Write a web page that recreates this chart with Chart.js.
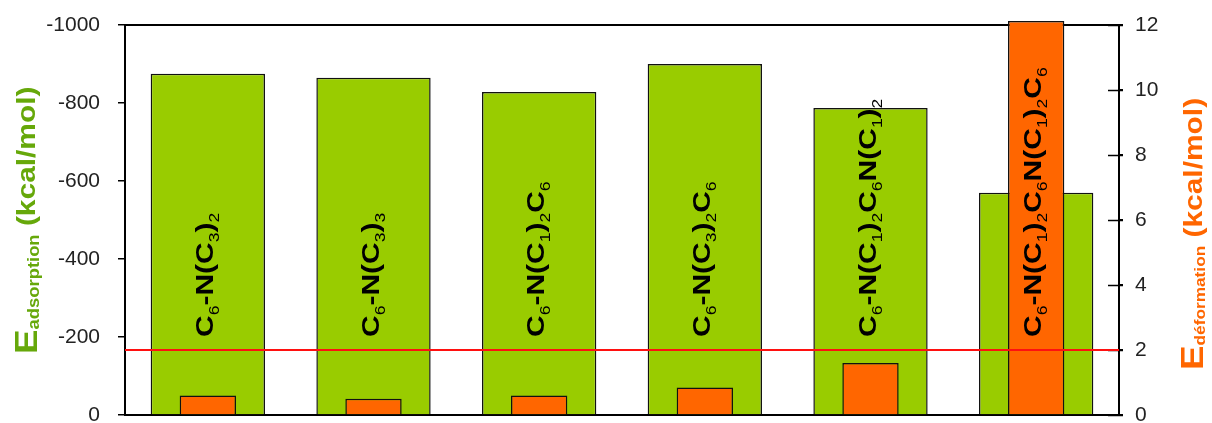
<!DOCTYPE html>
<html>
<head>
<meta charset="utf-8">
<script src="https://cdn.jsdelivr.net/npm/chart.js@4/dist/chart.umd.min.js"></script>
<style>
html, body { margin: 0; padding: 0; background: #fff; }
#wrap { width: 1212px; height: 423px; position: relative; }
</style>
</head>
<body>
<div id="wrap"><canvas id="chart"></canvas></div>
<script>
// molecule names, "_x" marks a subscript character
const categories = ['C_6-N(C_3)_2', 'C_6-N(C_3)_3', 'C_6-N(C_1)_2C_6', 'C_6-N(C_3)_2C_6', 'C_6-N(C_1)_2C_6N(C_1)_2', 'C_6-N(C_1)_2C_6N(C_1)_2C_6'];
const adsorption = [-875, -865, -828, -900, -787, -570];   // left axis, kcal/mol
const deformation = [0.6, 0.5, 0.6, 0.85, 1.6, 12.12];     // right axis, kcal/mol
const leftTicks = [0, -200, -400, -600, -800, -1000];
const rightTicks = [0, 2, 4, 6, 8, 10, 12];
const threshold = 2;      // red line on the right axis
const labelBase = -200;   // where the bar names start, left axis

const GREEN = '#99cc00';
const ORANGE = '#ff6600';
const FONT = '"Liberation Sans", Arial, sans-serif';

// draw rotated text made of parts [text, font, dy, color]
function drawParts(ctx, parts, x, y, stretch) {
    ctx.save();
    ctx.translate(x, y);
    ctx.rotate(-Math.PI / 2);
    ctx.scale(stretch, 1);
    ctx.textBaseline = 'alphabetic';
    ctx.textAlign = 'left';
    let pos = 0;
    parts.forEach(p => {
        ctx.font = p[1];
        ctx.fillStyle = p[3];
        ctx.fillText(p[0], pos, p[2]);
        pos += ctx.measureText(p[0]).width;
    });
    ctx.restore();
}

function nameParts(name) {
    const parts = [];
    for (let i = 0; i < name.length; i++) {
        if (name[i] === '_') {
            i++;
            parts.push([name[i], '14px ' + FONT, 6, '#000']);
        } else {
            parts.push([name[i], 'bold 24px ' + FONT, 0, '#000']);
        }
    }
    return parts;
}

const framePlugin = {
    id: 'frame',
    beforeDatasetsDraw(chart) {
        const ctx = chart.ctx, a = chart.chartArea;
        ctx.save();
        ctx.strokeStyle = '#000';
        ctx.lineWidth = 2;
        ctx.strokeRect(a.left, a.top, a.right - a.left, a.bottom - a.top);
        // right axis ticks cross the axis line
        const y2 = chart.scales.y2;
        ctx.lineWidth = 1.5;
        y2.ticks.forEach(t => {
            const py = Math.round(y2.getPixelForValue(t.value)) + 0.5;
            ctx.beginPath();
            ctx.moveTo(a.right - 11, py);
            ctx.lineTo(a.right + 4, py);
            ctx.stroke();
        });
        ctx.restore();
    },
    afterDatasetsDraw(chart) {
        const ctx = chart.ctx, a = chart.chartArea;
        const y = chart.scales.y, y2 = chart.scales.y2;

        // red reference line
        const ly = y2.getPixelForValue(threshold);
        ctx.save();
        ctx.strokeStyle = '#ff1010';
        ctx.lineWidth = 2;
        ctx.beginPath();
        ctx.moveTo(a.left, ly);
        ctx.lineTo(a.right, ly);
        ctx.stroke();
        ctx.restore();

        // names inside the bars
        const meta = chart.getDatasetMeta(1);
        const by = y.getPixelForValue(labelBase);
        meta.data.forEach((bar, i) => {
            drawParts(ctx, nameParts(categories[i]), bar.x + 5, by, 1.25);
        });

        // axis titles
        const green = '#66a80a';
        drawParts(ctx, [
            ['E', 'bold 32px ' + FONT, 0, green],
            ['adsorption', 'bold 16px ' + FONT, 2, green],
            [' (kcal/mol)', 'bold 26px ' + FONT, -2, green]
        ], 37, 354, 1.15);
        drawParts(ctx, [
            ['E', 'bold 32px ' + FONT, 0, ORANGE],
            ['déformation', 'bold 15px ' + FONT, 2, ORANGE],
            [' (kcal/mol)', 'bold 26px ' + FONT, -1, ORANGE]
        ], 1203, 370, 1.15);
    }
};

new Chart(document.getElementById('chart'), {
    type: 'bar',
    data: {
        labels: categories,
        datasets: [{
            label: 'E déformation',
            data: deformation,
            yAxisID: 'y2',
            backgroundColor: ORANGE,
            borderColor: '#111',
            borderWidth: 1.5,
            barPercentage: 0.34,
            categoryPercentage: 1,
            grouped: false,
            clip: false,
            order: 0
        }, {
            label: 'E adsorption',
            data: adsorption,
            yAxisID: 'y',
            backgroundColor: GREEN,
            borderColor: '#111',
            borderWidth: 1.5,
            barPercentage: 0.69,
            categoryPercentage: 1,
            grouped: false,
            order: 1
        }]
    },
    options: {
        responsive: true,
        maintainAspectRatio: false,
        animation: false,
        layout: { padding: { top: 25, bottom: 8, left: 0, right: 0 } },
        plugins: {
            legend: { display: false },
            tooltip: { enabled: false }
        },
        scales: {
            x: { display: false },
            y: {
                position: 'left',
                reverse: true,
                min: -1000,
                max: 0,
                border: { display: false },
                grid: { drawOnChartArea: false, tickLength: 7, color: '#000', lineWidth: 1.5 },
                ticks: { font: { size: 21, family: FONT }, color: '#222', padding: 18, callback: v => String(v) },
                afterBuildTicks: s => { s.ticks = leftTicks.map(v => ({ value: v })); },
                afterFit: s => { s.width = 125; s.paddingTop = 0; s.paddingBottom = 0; }
            },
            y2: {
                position: 'right',
                min: 0,
                max: 12,
                border: { display: false },
                grid: { drawOnChartArea: false, tickLength: 4, color: '#000', lineWidth: 1.5 },
                ticks: { font: { size: 21, family: FONT }, color: '#222', padding: 12, callback: v => String(v) },
                afterBuildTicks: s => { s.ticks = rightTicks.map(v => ({ value: v })); },
                afterFit: s => { s.width = 93; s.paddingTop = 0; s.paddingBottom = 0; }
            }
        }
    },
    plugins: [framePlugin]
});
</script>
</body>
</html>
